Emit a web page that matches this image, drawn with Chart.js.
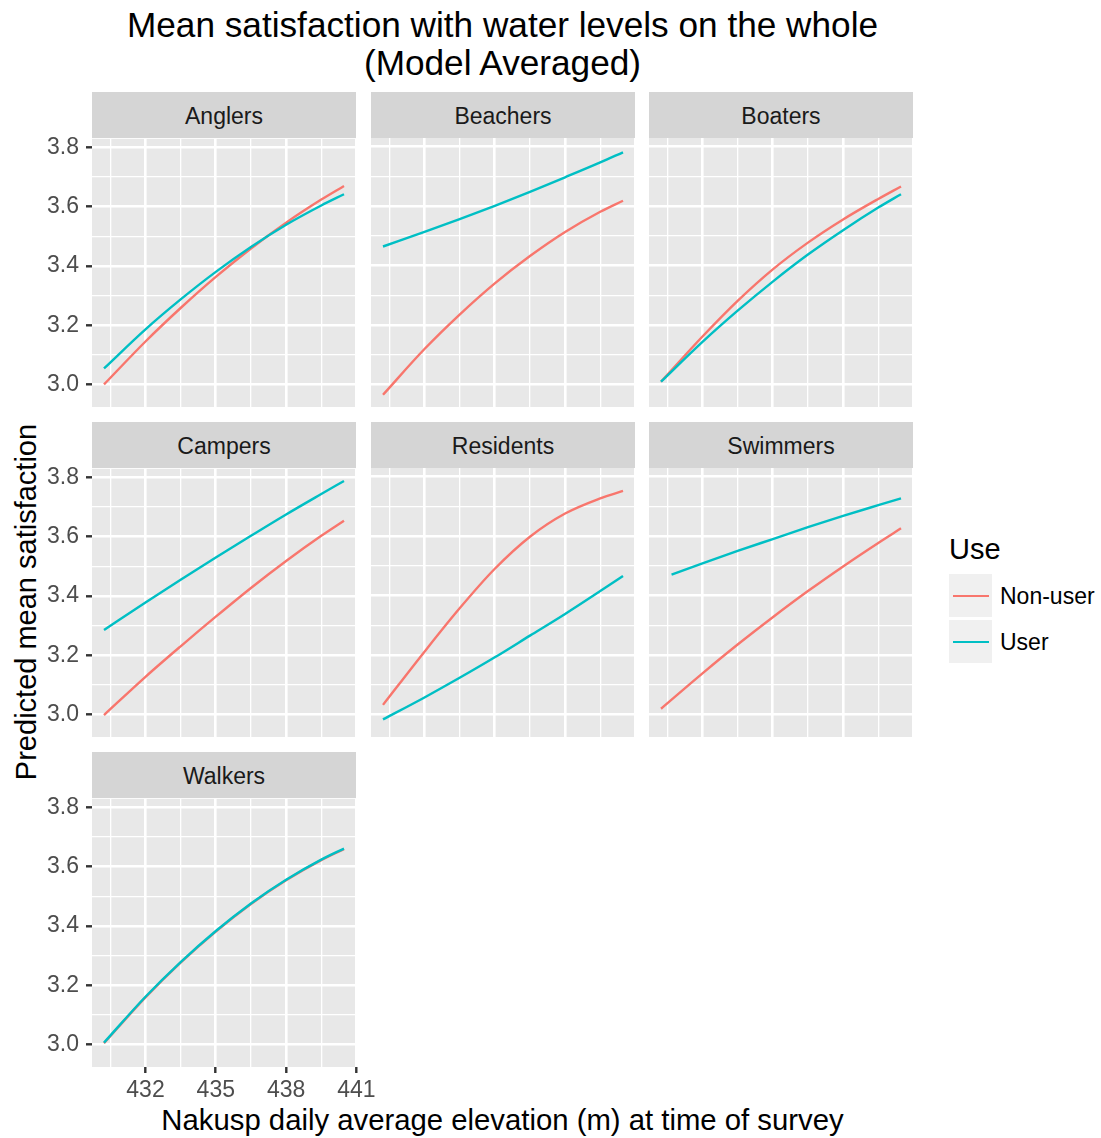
<!DOCTYPE html>
<html>
<head>
<meta charset="utf-8">
<script src="https://cdn.jsdelivr.net/npm/chart.js@4.4.1/dist/chart.umd.min.js"></script>
<style>
  html, body { margin: 0; padding: 0; background: #ffffff; }
  body {
    width: 1101px; height: 1138px; position: relative; overflow: hidden;
    font-family: "Liberation Sans", Arial, Helvetica, sans-serif;
  }
  .txt { position: absolute; white-space: nowrap; }
  .strip {
    position: absolute; background: #D5D5D5; color: #1A1A1A;
    font-size: 23px; text-align: center;
  }
  .key { position: absolute; background: #F0F0F0; }
  .keyline { position: absolute; height: 2.4px; }
  canvas { position: absolute; }
</style>
</head>
<body>
<div class="txt" id="title" style="left:92px; width:821px; top:6px; font-size:35.2px; line-height:38px; text-align:center; color:#000;">Mean satisfaction with water levels on the whole<br>(Model Averaged)</div>
<div class="txt" id="ytitle" style="left:-274px; top:585px; width:600px; height:34px; line-height:34px; font-size:29px; text-align:center; transform:rotate(-90deg); color:#000;">Predicted mean satisfaction</div>
<div class="txt" id="xtitle" style="left:92px; width:821px; top:1103px; font-size:29.3px; line-height:34px; text-align:center; color:#000;">Nakusp daily average elevation (m) at time of survey</div>

<div id="legend">
  <div class="txt" style="left:949px; top:532px; font-size:29px; line-height:34px; color:#000;">Use</div>
  <div class="key" style="left:949px; top:574px; width:43px; height:43px;"></div>
  <div class="keyline" style="left:953px; top:594.5px; width:36px; background:#F8766D;"></div>
  <div class="txt" style="left:1000px; top:582px; font-size:23px; line-height:28px; color:#000;">Non-user</div>
  <div class="key" style="left:949px; top:620px; width:43px; height:43px;"></div>
  <div class="keyline" style="left:953px; top:640.5px; width:36px; background:#00BFC4;"></div>
  <div class="txt" style="left:1000px; top:628px; font-size:23px; line-height:28px; color:#000;">User</div>
</div>

<script>
// Elevation (m) at which each model prediction is evaluated
const elevation = [430.23, 432, 433.5, 435, 436.5, 438, 439.5, 440.47];
const elevationSwimmersUser = [430.68, 432, 433.5, 435, 436.5, 438, 439.5, 440.47];

// Predicted mean satisfaction, by group and use
const anglersNonUser   = [3.000, 3.145, 3.258, 3.363, 3.459, 3.546, 3.624, 3.670];
const anglersUser      = [3.054, 3.186, 3.287, 3.380, 3.464, 3.539, 3.604, 3.642];
const beachersNonUser  = [2.965, 3.119, 3.235, 3.340, 3.432, 3.513, 3.581, 3.618];
const beachersUser     = [3.464, 3.513, 3.556, 3.601, 3.648, 3.697, 3.747, 3.781];
const boatersNonUser   = [3.009, 3.161, 3.281, 3.387, 3.477, 3.555, 3.624, 3.666];
const boatersUser      = [3.009, 3.143, 3.248, 3.346, 3.437, 3.519, 3.595, 3.640];
const campersNonUser   = [2.998, 3.127, 3.230, 3.330, 3.427, 3.518, 3.603, 3.654];
const campersUser      = [3.285, 3.378, 3.455, 3.530, 3.603, 3.675, 3.744, 3.788];
const residentsNonUser = [3.032, 3.211, 3.357, 3.490, 3.598, 3.676, 3.727, 3.752];
const residentsUser    = [2.983, 3.057, 3.123, 3.192, 3.265, 3.338, 3.415, 3.466];
const swimmersNonUser  = [3.019, 3.138, 3.235, 3.327, 3.415, 3.498, 3.577, 3.626];
const swimmersUser     = [3.470, 3.508, 3.550, 3.590, 3.630, 3.668, 3.704, 3.727];
const walkersNonUser   = [3.004, 3.159, 3.276, 3.381, 3.474, 3.554, 3.622, 3.659];
const walkersUser      = [3.006, 3.161, 3.278, 3.383, 3.476, 3.556, 3.624, 3.661];

const groups = ['Anglers', 'Beachers', 'Boaters', 'Campers', 'Residents', 'Swimmers', 'Walkers'];
const useLevels = ['Non-user', 'User'];

// Axis breaks
const xMajor = [432, 435, 438, 441];
const xMinor = [430.5, 433.5, 436.5, 439.5];
const yMajor = [3.0, 3.2, 3.4, 3.6, 3.8];
const yMinor = [3.1, 3.3, 3.5, 3.7];

const seriesByGroup = {
  Anglers:   [[elevation, anglersNonUser],   [elevation, anglersUser]],
  Beachers:  [[elevation, beachersNonUser],  [elevation, beachersUser]],
  Boaters:   [[elevation, boatersNonUser],   [elevation, boatersUser]],
  Campers:   [[elevation, campersNonUser],   [elevation, campersUser]],
  Residents: [[elevation, residentsNonUser], [elevation, residentsUser]],
  Swimmers:  [[elevation, swimmersNonUser],  [elevationSwimmersUser, swimmersUser]],
  Walkers:   [[elevation, walkersNonUser],   [elevation, walkersUser]]
};

const useColors = ['#F8766D', '#00BFC4'];

// Shared limits: data range widened by 5% on each side
function expanded(values) {
  const lo = Math.min(...values), hi = Math.max(...values);
  const pad = (hi - lo) * 0.05;
  return [lo - pad, hi + pad];
}
const allX = [], allY = [];
groups.forEach(g => seriesByGroup[g].forEach(([xs, ys]) => { allX.push(...xs); allY.push(...ys); }));
const [xMin, xMax] = expanded(allX);
const [yMin, yMax] = expanded(allY);

// Facet grid geometry
const NCOL = 3;
const colLeft = [92, 371, 649];
const rowTop = [92, 422, 752];
const STRIP_H = 46, PANEL_W = 264, PANEL_H = 269;
const PAD_L = 70, PAD_T = 20, PAD_R = 30, PAD_B = 50;

const panelBackground = {
  id: 'panelBackground',
  beforeDraw(chart) {
    const a = chart.chartArea, c = chart.ctx;
    c.save();
    c.fillStyle = '#E8E8E8';
    c.fillRect(a.left, a.top, a.right - a.left, a.bottom - a.top);
    c.restore();
  }
};

const FONT = '"Liberation Sans", Arial, Helvetica, sans-serif';

groups.forEach((g, i) => {
  const col = i % NCOL, row = Math.floor(i / NCOL);
  const left = colLeft[col], top = rowTop[row];

  const strip = document.createElement('div');
  strip.className = 'strip';
  strip.style.left = left + 'px';
  strip.style.top = top + 'px';
  strip.style.width = PANEL_W + 'px';
  strip.style.height = STRIP_H + 'px';
  strip.style.lineHeight = (STRIP_H + 2) + 'px';
  strip.textContent = g;
  document.body.appendChild(strip);

  const canvas = document.createElement('canvas');
  const cw = PAD_L + PANEL_W + PAD_R, ch = PAD_T + PANEL_H + PAD_B;
  canvas.width = cw; canvas.height = ch;
  canvas.style.left = (left - PAD_L) + 'px';
  canvas.style.top = (top + STRIP_H - PAD_T) + 'px';
  canvas.style.width = cw + 'px';
  canvas.style.height = ch + 'px';
  document.body.appendChild(canvas);

  const showY = col === 0;
  // x axis labels sit under the lowest panel of the first column only
  const showX = (g === 'Walkers');

  const datasets = seriesByGroup[g].map(([xs, ys], k) => ({
    label: useLevels[k],
    data: xs.map((x, j) => ({ x: x, y: ys[j] })),
    borderColor: useColors[k],
    backgroundColor: useColors[k],
    borderWidth: 2.4,
    pointRadius: 0,
    fill: false,
    cubicInterpolationMode: 'monotone',
    order: k === 1 ? 0 : 1
  }));

  new Chart(canvas, {
    type: 'line',
    data: { datasets },
    plugins: [panelBackground],
    options: {
      responsive: false,
      animation: false,
      devicePixelRatio: 1,
      layout: { padding: { left: 0, top: PAD_T, right: PAD_R, bottom: 0 } },
      plugins: { legend: { display: false }, tooltip: { enabled: false } },
      events: [],
      scales: {
        x: {
          type: 'linear',
          min: xMin, max: xMax,
          afterBuildTicks: s => { s.ticks = xMinor.concat(xMajor).sort((a, b) => a - b).map(v => ({ value: v })); },
          afterFit: s => { s.height = PAD_B; },
          border: { display: false },
          grid: {
            color: '#FFFFFF',
            lineWidth: c => (c.tick && xMajor.includes(c.tick.value)) ? 2.6 : 1.3,
            drawTicks: showX,
            tickLength: 6,
            tickWidth: 2.4,
            tickColor: c => (c.tick && xMajor.includes(c.tick.value)) ? '#333333' : 'rgba(0,0,0,0)'
          },
          ticks: {
            display: showX,
            autoSkip: false,
            maxRotation: 0, minRotation: 0,
            padding: 4,
            color: '#4D4D4D',
            font: { family: FONT, size: 23 },
            callback: v => xMajor.includes(v) ? String(v) : ''
          }
        },
        y: {
          type: 'linear',
          min: yMin, max: yMax,
          afterBuildTicks: s => { s.ticks = yMinor.concat(yMajor).sort((a, b) => a - b).map(v => ({ value: v })); },
          afterFit: s => { s.width = PAD_L; },
          border: { display: false },
          grid: {
            color: '#FFFFFF',
            lineWidth: c => (c.tick && yMajor.includes(c.tick.value)) ? 2.6 : 1.3,
            drawTicks: showY,
            tickLength: 6,
            tickWidth: 2.4,
            tickColor: c => (c.tick && yMajor.includes(c.tick.value)) ? '#333333' : 'rgba(0,0,0,0)'
          },
          ticks: {
            display: showY,
            autoSkip: false,
            padding: 7,
            color: '#4D4D4D',
            font: { family: FONT, size: 23 },
            callback: v => yMajor.includes(v) ? v.toFixed(1) : ''
          }
        }
      }
    }
  });
});
</script>
</body>
</html>
